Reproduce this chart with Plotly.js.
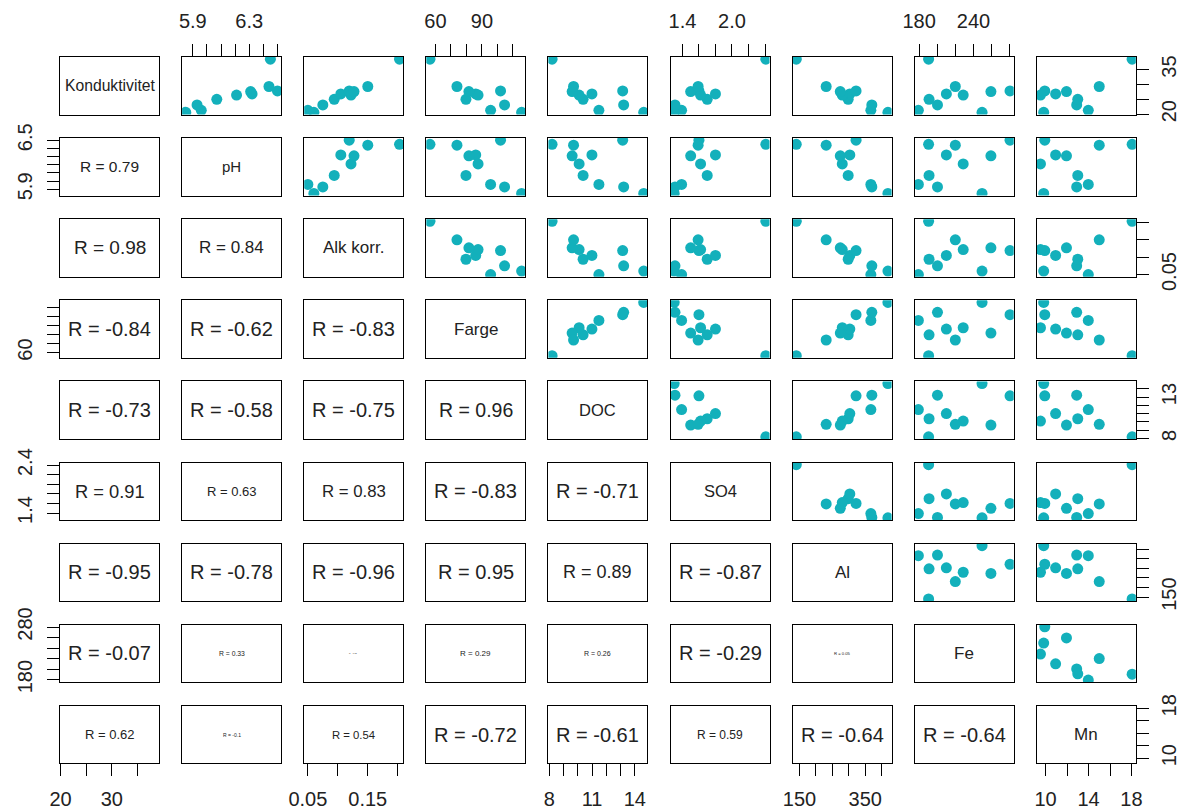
<!DOCTYPE html>
<html>
<head>
<meta charset="utf-8">
<script src="https://cdn.plot.ly/plotly-3.0.1.min.js"></script>
<style>html,body{margin:0;padding:0;background:#fff;}#chart{width:1189px;height:811px;}</style>
</head>
<body>
<div id="chart"></div>
<script>
// ---- data (10 observations) ----
const varNames = ["Konduktivitet", "pH", "Alk korr.", "Farge", "DOC", "SO4", "Al", "Fe", "Mn"];
const konduktivitet = [38.5, 21.3, 20.6, 23.1, 25.0, 26.8, 27.8, 26.4, 27.6, 29.3];
const pH            = [6.45, 5.96, 5.85, 5.93, 6.07, 6.32, 6.50, 6.21, 6.31, 6.44];
const alkKorr       = [0.203, 0.050, 0.060, 0.075, 0.094, 0.105, 0.119, 0.122, 0.127, 0.150];
const farge         = [56.5, 95.6, 115.6, 104.6, 79.7, 86.0, 102.0, 87.5, 81.6, 73.9];
const doc           = [8.19, 11.48, 14.63, 13.22, 10.37, 10.99, 13.15, 10.09, 9.6, 9.7];
const so4           = [2.41, 1.39, 1.30, 1.31, 1.70, 1.80, 1.60, 1.62, 1.50, 1.59];
const al            = [140, 367, 419, 370, 298, 303, 322, 280, 274, 231];
const fe            = [190.5, 179.2, 249.5, 200.3, 191, 210.1, 280.4, 228.7, 259.3, 220.0];
const mn            = [18.06, 13.98, 9.83, 12.9, 13.0, 10.94, 9.93, 9.53, 11.95, 15.0];

// ---- tick values and labels (horizontal axes / vertical axes) ----
const kondTicks = [20, 25, 30, 35];           const kondH = ["20", "", "30", ""];             const kondV = ["20", "", "", "35"];
const pHTicks = [5.9, 6.0, 6.1, 6.2, 6.3, 6.4, 6.5]; const pHH = ["5.9", "", "", "", "6.3", "", ""]; const pHV = ["5.9", "", "", "", "", "", "6.5"];
const alkTicks = [0.05, 0.10, 0.15, 0.20];    const alkH = ["0.05", "", "0.15", ""];          const alkV = ["0.05", "", "", ""];
const fargeTicks = [60, 70, 80, 90, 100, 110]; const fargeH = ["60", "", "", "90", "", ""];   const fargeV = ["60", "", "", "", "", ""];
const docTicks = [8, 9, 10, 11, 12, 13, 14];  const docH = ["8", "", "", "11", "", "", "14"]; const docV = ["8", "", "", "", "", "13", ""];
const so4Ticks = [1.4, 1.6, 1.8, 2.0, 2.2, 2.4]; const so4H = ["1.4", "", "", "2.0", "", ""]; const so4V = ["1.4", "", "", "", "", "2.4"];
const alTicks = [150, 200, 250, 300, 350, 400]; const alH = ["150", "", "", "", "350", ""];  const alV = ["150", "", "", "", "", ""];
const feTicks = [180, 200, 220, 240, 260, 280]; const feH = ["180", "", "", "240", "", ""];  const feV = ["180", "", "", "", "", "280"];
const mnTicks = [10, 12, 14, 16, 18];         const mnH = ["10", "", "14", "", "18"];         const mnV = ["10", "", "", "", "18"];

// ---- correlation labels (lower triangle, by row) and their text sizes ----
const corLabels = [
  [],
  ["R = 0.79"],
  ["R = 0.98", "R = 0.84"],
  ["R = -0.84", "R = -0.62", "R = -0.83"],
  ["R = -0.73", "R = -0.58", "R = -0.75", "R = 0.96"],
  ["R = 0.91", "R = 0.63", "R = 0.83", "R = -0.83", "R = -0.71"],
  ["R = -0.95", "R = -0.78", "R = -0.96", "R = 0.95", "R = 0.89", "R = -0.87"],
  ["R = -0.07", "R = 0.33", "R = 0.02", "R = 0.29", "R = 0.26", "R = -0.29", "R = 0.05"],
  ["R = 0.62", "R = -0.1", "R = 0.54", "R = -0.72", "R = -0.61", "R = 0.59", "R = -0.64", "R = -0.64"]
];
const corSizes = [
  [],
  [15.5],
  [19, 17],
  [20, 20, 20],
  [20, 20, 20, 19.5],
  [18.3, 13, 16.8, 20, 20],
  [20, 20, 20, 20, 18, 20],
  [20, 6.8, 2, 8, 7, 20, 4.2],
  [13, 5, 11.3, 20, 20, 12, 20, 20]
];
const labelSizes = [15.7, 15, 17, 17, 16.5, 16.5, 17, 17, 17];

// ---- assemble ----
const series = [konduktivitet, pH, alkKorr, farge, doc, so4, al, fe, mn];
const ticks = [kondTicks, pHTicks, alkTicks, fargeTicks, docTicks, so4Ticks, alTicks, feTicks, mnTicks];
const ticksH = [kondH, pHH, alkH, fargeH, docH, so4H, alH, feH, mnH];
const ticksV = [kondV, pHV, alkV, fargeV, docV, so4V, alV, feV, mnV];

function padRange(arr) {
  const mn = Math.min(...arr), mx = Math.max(...arr), d = mx - mn;
  return [mn - 0.04 * d, mx + 0.04 * d];
}
const ranges = series.map(padRange);

const W = 1189, H = 811;
const colLeft = 60, colPitch = 122.1, colWidth = 99;
const rowTop = 57, rowPitch = 81.1, rowHeight = 57.5;
const FONT = "Liberation Sans, Arial, Helvetica, sans-serif";
const TXT = "#222";
const DOT = "#13b0bb";

const traces = [];
const annotations = [];
const layout = {
  width: W, height: H, autosize: false,
  margin: {l: 0, r: 0, t: 0, b: 0},
  paper_bgcolor: "#fff", plot_bgcolor: "#fff",
  showlegend: false,
  font: {family: FONT, color: TXT},
  annotations: annotations
};

for (let r = 0; r < 9; r++) {
  for (let c = 0; c < 9; c++) {
    const k = r * 9 + c + 1;
    const sfx = k === 1 ? "" : String(k);
    const xid = "x" + sfx, yid = "y" + sfx;
    const x0 = colLeft + colPitch * c, x1 = x0 + colWidth;
    const yt = rowTop + rowPitch * r, yb = yt + rowHeight;
    const base = {
      showline: true, mirror: true, linecolor: "#000", linewidth: 1,
      showgrid: false, zeroline: false, showticklabels: false, ticks: "",
      fixedrange: true, autorange: false
    };
    const xa = Object.assign({}, base, {
      domain: [x0 / W, x1 / W], range: ranges[c], anchor: yid
    });
    const ya = Object.assign({}, base, {
      domain: [1 - yb / H, 1 - yt / H], range: ranges[r], anchor: xid
    });
    const tickStyle = {
      ticks: "outside", ticklen: 12, tickwidth: 1, tickcolor: "#000",
      tickmode: "array", showticklabels: true,
      tickfont: {family: FONT, size: 20, color: TXT}
    };
    if ((r === 0 && c % 2 === 1) || (r === 8 && c % 2 === 0)) {
      Object.assign(xa, tickStyle, {
        side: r === 0 ? "top" : "bottom",
        tickvals: ticks[c], ticktext: ticksH[c],
        ticklabelstandoff: r === 0 ? 8 : 6, tickangle: 0
      });
    }
    if ((c === 0 && r % 2 === 1) || (c === 8 && r % 2 === 0)) {
      Object.assign(ya, tickStyle, {
        side: c === 0 ? "left" : "right",
        tickvals: ticks[r], ticktext: ticksV[r], tickangle: -90,
        ticklabelstandoff: c === 0 ? 7 : 3
      });
    }
    layout["xaxis" + sfx] = xa;
    layout["yaxis" + sfx] = ya;

    if (c > r) {
      traces.push({
        type: "scatter", mode: "markers",
        x: series[c], y: series[r],
        xaxis: xid, yaxis: yid,
        marker: {color: DOT, size: 11, line: {width: 0}},
        hoverinfo: "skip", cliponaxis: true
      });
    } else {
      traces.push({type: "scatter", mode: "markers", x: [], y: [], xaxis: xid, yaxis: yid, hoverinfo: "skip"});
      const isDiag = c === r;
      annotations.push({
        xref: xid + " domain", yref: yid + " domain", x: 0.5, y: 0.5,
        xanchor: "center", yanchor: "middle", showarrow: false,
        text: isDiag ? varNames[r] : corLabels[r][c],
        font: {family: FONT, size: isDiag ? labelSizes[r] : corSizes[r][c], color: TXT}
      });
    }
  }
}

Plotly.newPlot("chart", traces, layout, {staticPlot: true, displayModeBar: false});
</script>
</body>
</html>
